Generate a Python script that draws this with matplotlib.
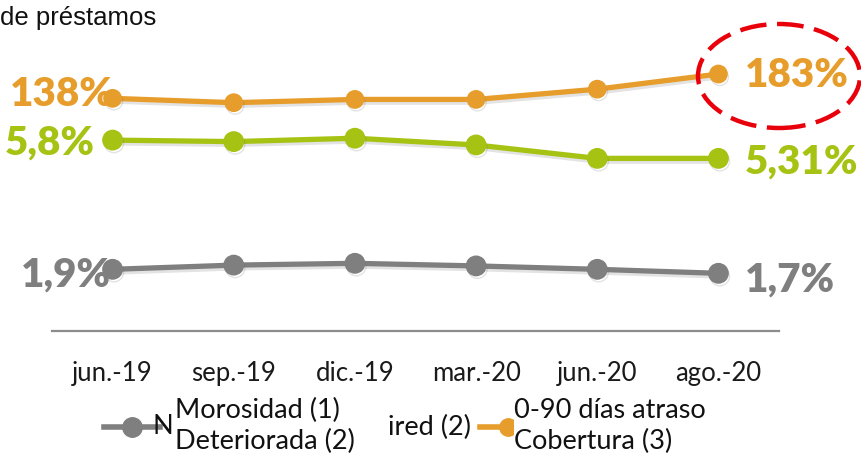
import matplotlib
matplotlib.use("Agg")
import matplotlib.pyplot as plt
import matplotlib.patheffects as pe
from matplotlib.patches import Ellipse
from matplotlib.lines import Line2D

# Data
periods = ["jun.-19", "sep.-19", "dic.-19", "mar.-20", "jun.-20", "ago.-20"]
cobertura = [138, 130, 136, 136, 155, 183]          # Cobertura (3), %
deteriorada = [5.80, 5.76, 5.85, 5.67, 5.31, 5.31]  # Deteriorada (2), %
morosidad = [1.90, 2.11, 2.20, 2.07, 1.90, 1.70]    # Morosidad (1), %

first_labels = ["138%", "5,8%", "1,9%"]
last_labels = ["183%", "5,31%", "1,7%"]

ORANGE = "#E79D2B"
GREEN = "#A6C314"
GRAY = "#7F7F7F"

W, H = 862, 458
fig = plt.figure(figsize=(W / 100, H / 100), dpi=100)

def fx(px):
    return px / W

def fy(py):
    return 1 - py / H

left, right, top, bottom = 52, 779, 20, 330.7
rect = [fx(left), fy(bottom), fx(right) - fx(left), fy(top) - fy(bottom)]

ax = fig.add_axes(rect)
ax_g = ax.twinx()
ax_o = ax.twinx()

x = list(range(len(periods)))
shadow = [pe.SimpleLineShadow(offset=(1.0, -2.0), shadow_color="#666666", alpha=0.18), pe.Normal()]

series = [
    (ax_o, cobertura, ORANGE, 12.5, (-292, 283)),
    (ax_g, deteriorada, GREEN, 14, (0.69, 9.02)),
    (ax, morosidad, GRAY, 14, (-1.17, 14.37)),
]
for a, vals, col, ms, lim in series:
    a.plot(x, vals, color=col, lw=3.8, marker="o", ms=ms, solid_capstyle="round",
           path_effects=shadow, zorder=3)
    a.set_ylim(*lim)
    a.set_xlim(-0.5, len(periods) - 0.5)
    a.set_yticks([])
    for s in a.spines.values():
        s.set_visible(False)
    a.patch.set_visible(False)

ax.spines["bottom"].set_visible(True)
ax.spines["bottom"].set_color("#8C8C8C")
ax.spines["bottom"].set_linewidth(1.6)
ax.set_xticks(x)
ax.set_xticklabels(periods, fontfamily="Lato", fontsize=18.5, color="#1a1a1a")
ax.tick_params(axis="x", length=0, pad=22)

# Value labels at the first and last period
bold = dict(fontfamily="Lato", fontweight="heavy", fontsize=29)
first_off = [(1, 3), (-13, -2), (-1, -4)]
last_off = [(19, -1), (19, -3), (19, -5)]
for (a, vals, col, _, _), lab0, lab1, o0, o1 in zip(series, first_labels, last_labels, first_off, last_off):
    a.annotate(lab0, (0, vals[0]), xytext=o0, textcoords="offset points",
               ha="right", va="center", color=col, zorder=4, **bold)
    a.annotate(lab1, (5, vals[-1]), xytext=o1, textcoords="offset points",
               ha="left", va="center", color=col, zorder=4, **bold)

# Highlight around the latest coverage ratio
ell = Ellipse((fx(779), fy(76)), fx(162), 104 / H, transform=fig.transFigure,
              fill=False, edgecolor="#E8000B", lw=3.2, linestyle=(0, (6, 2.4)), zorder=5)
fig.add_artist(ell)

# Title fragment
fig.text(0, fy(18), "de préstamos", fontfamily="Liberation Sans", fontsize=18.5,
         ha="left", va="center", color="#111111")

# Legend
leg_y = fy(427)
fig.add_artist(Line2D([fx(104), fx(160)], [leg_y, leg_y], color=GRAY, lw=4,
                      transform=fig.transFigure))
fig.add_artist(Line2D([fx(132)], [leg_y], color=GRAY, marker="o", ms=14,
                      transform=fig.transFigure))
fig.add_artist(Line2D([fx(480), fx(510)], [leg_y, leg_y], color=ORANGE, lw=4,
                      transform=fig.transFigure))
fig.add_artist(Line2D([fx(508)], [leg_y], color=ORANGE, marker="o", ms=12.5,
                      transform=fig.transFigure))

leg_font = dict(fontfamily="Lato", fontsize=19.5, color="#111111")
fig.text(fx(173), leg_y, "N", ha="right", va="center", **leg_font)
fig.text(fx(471), leg_y, "ired (2)", ha="right", va="center", **leg_font)
fig.text(fx(175), fy(426), "Morosidad (1)\nDeteriorada (2)", ha="left", va="center",
         multialignment="left", linespacing=1.32,
         bbox=dict(facecolor="white", edgecolor="none", pad=0), **leg_font)
fig.text(fx(514), fy(426), "0-90 días atraso\nCobertura (3)", ha="left", va="center",
         multialignment="left", linespacing=1.32,
         bbox=dict(facecolor="white", edgecolor="none", pad=0), **leg_font)

fig.savefig("out.png", dpi=100, facecolor="white")
